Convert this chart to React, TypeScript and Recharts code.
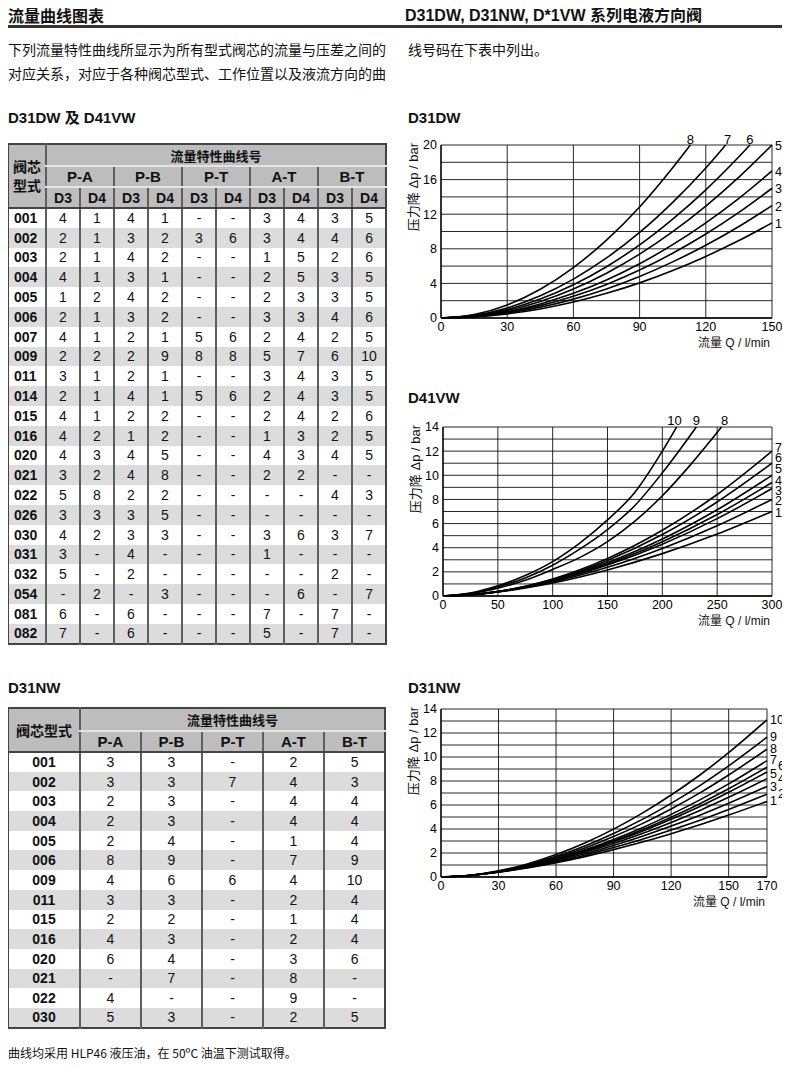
import React from 'react';
import { LineChart, Line, XAxis, YAxis, CartesianGrid, Label } from 'recharts';

const SANS = "'Liberation Sans', Arial, 'Noto Sans CJK SC', sans-serif";
const CJK = "'Noto Sans CJK SC', 'Liberation Sans', sans-serif";

// ---- D31DW curves: [Q l/min, Δp bar]
const dwCurve1 = [[0, 0], [15, 0.12], [30, 0.48], [45, 1.05], [60, 1.84], [75, 2.85], [90, 4.06], [105, 5.49], [120, 7.12], [135, 8.95], [150, 11]];
const dwCurve2 = [[0, 0], [15, 0.15], [30, 0.56], [45, 1.24], [60, 2.18], [75, 3.36], [90, 4.8], [105, 6.49], [120, 8.41], [135, 10.58], [150, 13]];
const dwCurve3 = [[0, 0], [15, 0.17], [30, 0.65], [45, 1.43], [60, 2.51], [75, 3.88], [90, 5.54], [105, 7.49], [120, 9.71], [135, 12.21], [150, 15]];
const dwCurve4 = [[0, 0], [15, 0.19], [30, 0.74], [45, 1.63], [60, 2.85], [75, 4.4], [90, 6.27], [105, 8.48], [120, 11.0], [135, 13.84], [150, 17]];
const dwCurve5 = [[0, 0], [15, 0.22], [30, 0.87], [45, 1.91], [60, 3.35], [75, 5.18], [90, 7.38], [105, 9.98], [120, 12.94], [135, 16.28], [150, 20]];
const dwCurve6 = [[0, 0], [15, 0.26], [30, 0.99], [45, 2.19], [60, 3.84], [75, 5.93], [90, 8.45], [105, 11.43], [120, 14.82], [135, 18.64], [140, 20]];
const dwCurve7 = [[0, 0], [15, 0.3], [30, 1.16], [45, 2.56], [60, 4.49], [75, 6.94], [90, 9.89], [105, 13.37], [120, 17.34], [129, 20]];
const dwCurve8 = [[0, 0], [15, 0.39], [30, 1.51], [45, 3.33], [60, 5.83], [75, 9.01], [90, 12.84], [105, 17.37], [113, 20]];
const dwXTicks = [0, 30, 60, 90, 120, 150];
const dwYTicks = [0, 2, 4, 6, 8, 10, 12, 14, 16, 18, 20];
const dwYLabels = [0, 4, 8, 12, 16, 20];

// ---- D41VW curves
const vwCurve1 = [[0, 0], [25, 0.1], [50, 0.33], [75, 0.66], [100, 1.08], [150, 2.16], [200, 3.51], [250, 5.13], [300, 7]];
const vwCurve2 = [[0, 0], [25, 0.1], [50, 0.35], [75, 0.71], [100, 1.17], [150, 2.38], [200, 3.94], [250, 5.82], [300, 8]];
const vwCurve3 = [[0, 0], [25, 0.1], [50, 0.35], [75, 0.73], [100, 1.23], [150, 2.56], [200, 4.29], [250, 6.41], [300, 8.9]];
const vwCurve4 = [[0, 0], [25, 0.1], [50, 0.36], [75, 0.75], [100, 1.27], [150, 2.66], [200, 4.5], [250, 6.75], [300, 9.4]];
const vwCurve5 = [[0, 0], [25, 0.1], [50, 0.36], [75, 0.77], [100, 1.31], [150, 2.77], [200, 4.72], [250, 7.14], [300, 10]];
const vwCurve6 = [[0, 0], [25, 0.1], [50, 0.37], [75, 0.79], [100, 1.36], [150, 2.95], [200, 5.09], [250, 7.79], [300, 11]];
const vwCurve7 = [[0, 0], [25, 0.09], [50, 0.36], [75, 0.8], [100, 1.41], [150, 3.11], [200, 5.45], [250, 8.41], [300, 12]];
const vwCurve8 = [[0, 0], [25, 0.2], [50, 0.65], [75, 1.3], [100, 2.2], [125, 3.2], [150, 4.5], [175, 6.2], [200, 8.3], [225, 10.8], [254, 14]];
const vwCurve9 = [[0, 0], [25, 0.22], [50, 0.75], [75, 1.5], [100, 2.55], [125, 3.9], [150, 5.5], [175, 7.5], [200, 10.2], [231, 14]];
const vwCurve10 = [[0, 0], [25, 0.25], [50, 0.85], [75, 1.7], [100, 2.85], [125, 4.4], [150, 6.3], [175, 8.6], [200, 12.0], [213, 14]];
const vwXTicks = [0, 50, 100, 150, 200, 250, 300];
const vwYTicks = [0, 1, 2, 3, 4, 5, 6, 7, 8, 9, 10, 11, 12, 13, 14];
const vwYLabels = [0, 2, 4, 6, 8, 10, 12, 14];

// ---- D31NW curves
const nwQ = [0, 15, 30, 45, 60, 75, 90, 105, 120, 135, 150, 170];
const nwCurve1 = [0, 0.13, 0.39, 0.75, 1.19, 1.7, 2.28, 2.91, 3.61, 4.35, 5.16, 6.3];
const nwCurve2 = [0, 0.13, 0.41, 0.79, 1.26, 1.82, 2.45, 3.14, 3.91, 4.73, 5.63, 6.9];
const nwCurve3 = [0, 0.13, 0.42, 0.83, 1.34, 1.94, 2.63, 3.39, 4.24, 5.15, 6.14, 7.55];
const nwCurve4 = [0, 0.14, 0.44, 0.87, 1.41, 2.06, 2.8, 3.63, 4.55, 5.55, 6.64, 8.2];
const nwCurve5 = [0, 0.13, 0.44, 0.89, 1.46, 2.14, 2.93, 3.82, 4.81, 5.88, 7.06, 8.75];
const nwCurve6 = [0, 0.13, 0.44, 0.89, 1.48, 2.19, 3.01, 3.94, 4.98, 6.11, 7.35, 9.15];
const nwCurve7 = [0, 0.13, 0.44, 0.91, 1.52, 2.26, 3.13, 4.11, 5.22, 6.43, 7.76, 9.7];
const nwCurve8 = [0, 0.13, 0.46, 0.96, 1.62, 2.42, 3.37, 4.45, 5.67, 7.01, 8.5, 10.65];
const nwCurve9 = [0, 0.13, 0.48, 1.01, 1.72, 2.59, 3.62, 4.8, 6.14, 7.62, 9.26, 11.65];
const nwCurve10 = [0, 0.14, 0.51, 1.09, 1.87, 2.84, 3.99, 5.32, 6.83, 8.5, 10.36, 13.1];
const nwXTicks = [0, 30, 60, 90, 120, 150, 170];

// ---- tables
const dwPorts = ['P-A', 'P-B', 'P-T', 'A-T', 'B-T'];
const dwSpools = ['001', '002', '003', '004', '005', '006', '007', '009', '011', '014', '015', '016', '020', '021', '022', '026', '030', '031', '032', '054', '081', '082'];
const dwNumbers = [
  '4 1 4 1 - - 3 4 3 5',
  '2 1 3 2 3 6 3 4 4 6',
  '2 1 4 2 - - 1 5 2 6',
  '4 1 3 1 - - 2 5 3 5',
  '1 2 4 2 - - 2 3 3 5',
  '2 1 3 2 - - 3 3 4 6',
  '4 1 2 1 5 6 2 4 2 5',
  '2 2 2 9 8 8 5 7 6 10',
  '3 1 2 1 - - 3 4 3 5',
  '2 1 4 1 5 6 2 4 3 5',
  '4 1 2 2 - - 2 4 2 6',
  '4 2 1 2 - - 1 3 2 5',
  '4 3 4 5 - - 4 3 4 5',
  '3 2 4 8 - - 2 2 - -',
  '5 8 2 2 - - - - 4 3',
  '3 3 3 5 - - - - - -',
  '4 2 3 3 - - 3 6 3 7',
  '3 - 4 - - - 1 - - -',
  '5 - 2 - - - - - 2 -',
  '- 2 - 3 - - - 6 - 7',
  '6 - 6 - - - 7 - 7 -',
  '7 - 6 - - - 5 - 7 -',
];
const nwSpools = ['001', '002', '003', '004', '005', '006', '009', '011', '015', '016', '020', '021', '022', '030'];
const nwNumbers = [
  '3 3 - 2 5',
  '3 3 7 4 3',
  '2 3 - 4 4',
  '2 3 - 4 4',
  '2 4 - 1 4',
  '8 9 - 7 9',
  '4 6 6 4 10',
  '3 3 - 2 4',
  '2 2 - 1 4',
  '4 3 - 2 4',
  '6 4 - 3 6',
  '- 7 - 8 -',
  '4 - - 9 -',
  '5 3 - 2 5',
];

type Curve = { id: string; pts: number[][]; at: 'top' | 'right'; dx?: number; dy?: number };

const XTitle = (p: any) => {
  const vb = p.viewBox || {};
  return (
    <text x={vb.x + vb.width - 2} y={vb.y + 29} textAnchor="end" fontSize={12} fontFamily={SANS} fill="#111">
      流量 Q / l/min
    </text>
  );
};

const YTitle = (p: any) => {
  const vb = p.viewBox || {};
  const x = vb.x + 2;
  const y = vb.y - 2;
  return (
    <text x={x} y={y} transform={`rotate(-90 ${x} ${y})`} textAnchor="end" dominantBaseline="central" fontSize={13} fontFamily={SANS} fill="#111">
      压力降 Δp / bar
    </text>
  );
};

const endLabel = (c: Curve, lift: number) => (p: any) => {
  if (p.index !== c.pts.length - 1) return <g />;
  if (c.at === 'top') {
    return (
      <text x={p.x + (c.dx ?? 0)} y={p.y - lift} textAnchor="middle" fontSize={13} fontFamily={SANS} fill="#000">
        {c.id}
      </text>
    );
  }
  return (
    <text x={p.x + 3 + (c.dx ?? 0)} y={p.y + (c.dy ?? 0)} dominantBaseline="central" fontSize={12.5} fontFamily={SANS} fill="#000">
      {c.id}
    </text>
  );
};

function FlowChart(props: {
  left: number; top: number; width: number; height: number;
  margin: { top: number; right: number; bottom: number; left: number };
  xMax: number; xTicks: number[]; yMax: number; yTicks: number[]; yLabels: number[];
  curves: Curve[]; lift: number;
}) {
  const { left, top, width, height, margin, xMax, xTicks, yMax, yTicks, yLabels, curves, lift } = props;
  const tick = { fill: '#000', fontSize: 12.5, fontFamily: SANS };
  return (
    <div style={{ position: 'absolute', left, top }}>
      <LineChart width={width} height={height} margin={margin} style={{ overflow: 'visible' }}>
        <CartesianGrid stroke="#111" strokeWidth={0.9} />
        <XAxis type="number" dataKey="q" domain={[0, xMax]} ticks={xTicks} interval={0} tickLine={false}
          tickSize={2} tickMargin={2} height={30} tick={tick}
          axisLine={{ stroke: '#000', strokeWidth: 1.3 }}>
          <Label content={XTitle} />
        </XAxis>
        <YAxis type="number" dataKey="dp" domain={[0, yMax]} ticks={yTicks} interval={0} tickLine={false}
          tickSize={2} tickMargin={2} width={30} tick={tick}
          axisLine={{ stroke: '#000', strokeWidth: 1.3 }}
          tickFormatter={(v: number) => (yLabels.includes(v) ? String(v) : '')}>
          <Label content={YTitle} />
        </YAxis>
        {curves.map((c) => (
          <Line key={c.id} data={c.pts.map(([q, dp]) => ({ q, dp }))} dataKey="dp" type="monotone"
            stroke="#000" strokeWidth={1.6} dot={false} isAnimationActive={false} label={endLabel(c, lift)} />
        ))}
      </LineChart>
    </div>
  );
}

const nwPts = (vals: number[]) => vals.map((v, i) => [nwQ[i], v]);

const dwCurves: Curve[] = [
  { id: '1', pts: dwCurve1, at: 'right', dy: 1 },
  { id: '2', pts: dwCurve2, at: 'right', dy: 1 },
  { id: '3', pts: dwCurve3, at: 'right', dy: 1 },
  { id: '4', pts: dwCurve4, at: 'right', dy: 1 },
  { id: '5', pts: dwCurve5, at: 'right', dy: 1 },
  { id: '6', pts: dwCurve6, at: 'top' },
  { id: '7', pts: dwCurve7, at: 'top', dx: 2 },
  { id: '8', pts: dwCurve8, at: 'top' },
];
const vwCurves: Curve[] = [
  { id: '1', pts: vwCurve1, at: 'right', dy: 1 },
  { id: '2', pts: vwCurve2, at: 'right', dy: 2 },
  { id: '3', pts: vwCurve3, at: 'right', dy: 2 },
  { id: '4', pts: vwCurve4, at: 'right', dy: -2 },
  { id: '5', pts: vwCurve5, at: 'right', dy: -6 },
  { id: '6', pts: vwCurve6, at: 'right', dy: -5 },
  { id: '7', pts: vwCurve7, at: 'right', dy: -3 },
  { id: '8', pts: vwCurve8, at: 'top', dx: 3 },
  { id: '9', pts: vwCurve9, at: 'top' },
  { id: '10', pts: vwCurve10, at: 'top', dx: -2 },
];
const nwCurves: Curve[] = [
  { id: '1', pts: nwPts(nwCurve1), at: 'right' },
  { id: '2', pts: nwPts(nwCurve2), at: 'right', dx: 8 },
  { id: '3', pts: nwPts(nwCurve3), at: 'right', dy: 1 },
  { id: '4', pts: nwPts(nwCurve4), at: 'right', dx: 8 },
  { id: '5', pts: nwPts(nwCurve5), at: 'right', dy: 2 },
  { id: '6', pts: nwPts(nwCurve6), at: 'right', dx: 8, dy: -1 },
  { id: '7', pts: nwPts(nwCurve7), at: 'right', dy: -1 },
  { id: '8', pts: nwPts(nwCurve8), at: 'right' },
  { id: '9', pts: nwPts(nwCurve9), at: 'right' },
  { id: '10', pts: nwPts(nwCurve10), at: 'right' },
];

const HEAD_BG = '#bdbdbd';
const STRIPE = '#dcdcdc';
const VLINE = '2px solid #5e5e5e';

function DwTable() {
  const th: React.CSSProperties = { background: HEAD_BG, borderLeft: VLINE, padding: 0, fontWeight: 700, fontSize: 14, fontFamily: SANS, color: '#111' };
  return (
    <table style={{ position: 'absolute', left: 7, top: 143, width: 378, borderCollapse: 'collapse', tableLayout: 'fixed', border: '2px solid #444' }}>
      <colgroup>
        <col style={{ width: 38 }} />
        {dwPorts.flatMap((p) => [<col key={p + 'a'} style={{ width: 34 }} />, <col key={p + 'b'} style={{ width: 34 }} />])}
      </colgroup>
      <thead>
        <tr style={{ height: 22 }}>
          <th rowSpan={3} style={{ ...th, borderLeft: 'none', borderBottom: '2px solid #444', fontFamily: CJK, fontSize: 14, lineHeight: '19px' }}>阀芯<br />型式</th>
          <th colSpan={10} style={{ ...th, fontFamily: CJK, fontSize: 13, borderBottom: '2px solid #e4e4e4' }}>流量特性曲线号</th>
        </tr>
        <tr style={{ height: 21 }}>
          {dwPorts.map((p) => (
            <th key={p} colSpan={2} style={{ ...th, fontSize: 15, borderBottom: '2px solid #e4e4e4' }}>{p}</th>
          ))}
        </tr>
        <tr style={{ height: 21 }}>
          {dwPorts.flatMap((p) => ['D3', 'D4'].map((d) => (
            <th key={p + d} style={{ ...th, borderBottom: '2px solid #444' }}>{d}</th>
          )))}
        </tr>
      </thead>
      <tbody>
        {dwSpools.map((s, i) => (
          <tr key={s} style={{ height: 19.8, background: i % 2 === 1 ? STRIPE : '#fff' }}>
            <td style={{ padding: '0 0 0 5px', fontWeight: 700, fontSize: 14, fontFamily: SANS, lineHeight: '16px' }}>{s}</td>
            {dwNumbers[i].split(' ').map((n, j) => (
              <td key={j} style={{ borderLeft: VLINE, textAlign: 'center', padding: 0, fontSize: 14, fontFamily: SANS, lineHeight: '16px' }}>{n}</td>
            ))}
          </tr>
        ))}
      </tbody>
    </table>
  );
}

function NwTable() {
  const th: React.CSSProperties = { background: HEAD_BG, borderLeft: VLINE, padding: 0, fontWeight: 700, fontSize: 14, fontFamily: SANS, color: '#111' };
  return (
    <table style={{ position: 'absolute', left: 7, top: 707, width: 377, borderCollapse: 'collapse', tableLayout: 'fixed', border: '2px solid #444' }}>
      <colgroup>
        <col style={{ width: 72 }} />
        {dwPorts.map((p) => <col key={p} style={{ width: 61 }} />)}
      </colgroup>
      <thead>
        <tr style={{ height: 23 }}>
          <th rowSpan={2} style={{ ...th, borderLeft: 'none', borderBottom: '2px solid #444', fontFamily: CJK }}>阀芯型式</th>
          <th colSpan={5} style={{ ...th, fontFamily: CJK, fontSize: 13, borderBottom: '2px solid #e4e4e4' }}>流量特性曲线号</th>
        </tr>
        <tr style={{ height: 21 }}>
          {dwPorts.map((p) => (
            <th key={p} style={{ ...th, fontSize: 15, borderBottom: '2px solid #444' }}>{p}</th>
          ))}
        </tr>
      </thead>
      <tbody>
        {nwSpools.map((s, i) => (
          <tr key={s} style={{ height: 19.7, background: i % 2 === 1 ? STRIPE : '#fff' }}>
            <td style={{ padding: 0, textAlign: 'center', fontWeight: 700, fontSize: 14, fontFamily: SANS, lineHeight: '16px' }}>{s}</td>
            {nwNumbers[i].split(' ').map((n, j) => (
              <td key={j} style={{ borderLeft: VLINE, textAlign: 'center', padding: 0, fontSize: 14, fontFamily: SANS, lineHeight: '16px' }}>{n}</td>
            ))}
          </tr>
        ))}
      </tbody>
    </table>
  );
}

const abs = (left: number, top: number, extra: React.CSSProperties = {}): React.CSSProperties => ({
  position: 'absolute', left, top, whiteSpace: 'nowrap', lineHeight: 1, ...extra,
});

export default function App() {
  return (
    <div style={{ position: 'relative', width: 790, height: 1067, margin: -8, background: '#fff', overflow: 'hidden', color: '#111' }}>
      <div style={abs(8, 7, { fontFamily: CJK, fontWeight: 700, fontSize: 16 })}>流量曲线图表</div>
      <div style={abs(405, 8, { fontFamily: SANS, fontWeight: 700, fontSize: 16 })}>D31DW, D31NW, D*1VW 系列电液方向阀</div>
      <div style={{ position: 'absolute', left: 8, top: 25, width: 777, height: 2.5, background: '#333' }} />

      <div style={abs(8, 42, { fontFamily: CJK, fontSize: 14 })}>下列流量特性曲线所显示为所有型式阀芯的流量与压差之间的</div>
      <div style={abs(8, 66, { fontFamily: CJK, fontSize: 14 })}>对应关系，对应于各种阀芯型式、工作位置以及液流方向的曲</div>
      <div style={abs(408, 42, { fontFamily: CJK, fontSize: 14 })}>线号码在下表中列出。</div>

      <div style={abs(8, 110, { fontFamily: SANS, fontWeight: 700, fontSize: 15 })}>D31DW 及 D41VW</div>
      <div style={abs(408, 110, { fontFamily: SANS, fontWeight: 700, fontSize: 15 })}>D31DW</div>
      <div style={abs(408, 390, { fontFamily: SANS, fontWeight: 700, fontSize: 15 })}>D41VW</div>
      <div style={abs(8, 680, { fontFamily: SANS, fontWeight: 700, fontSize: 15 })}>D31NW</div>
      <div style={abs(408, 680, { fontFamily: SANS, fontWeight: 700, fontSize: 15 })}>D31NW</div>

      <DwTable />
      <NwTable />

      <FlowChart left={400} top={130} width={390} height={230}
        margin={{ top: 15, right: 18, bottom: 12, left: 11 }}
        xMax={150} xTicks={dwXTicks} yMax={20} yTicks={dwYTicks} yLabels={dwYLabels} curves={dwCurves} lift={1} />
      <FlowChart left={400} top={412} width={390} height={225}
        margin={{ top: 15, right: 18, bottom: 11, left: 13 }}
        xMax={300} xTicks={vwXTicks} yMax={14} yTicks={vwYTicks} yLabels={vwYLabels} curves={vwCurves} lift={2} />
      <FlowChart left={400} top={694} width={390} height={225}
        margin={{ top: 15, right: 23, bottom: 12, left: 11 }}
        xMax={170} xTicks={nwXTicks} yMax={14} yTicks={vwYTicks} yLabels={vwYLabels} curves={nwCurves} lift={2} />

      <div style={abs(8, 1047, { fontFamily: CJK, fontSize: 12 })}>曲线均采用 HLP46 液压油，在 50ºC 油温下测试取得。</div>
    </div>
  );
}
